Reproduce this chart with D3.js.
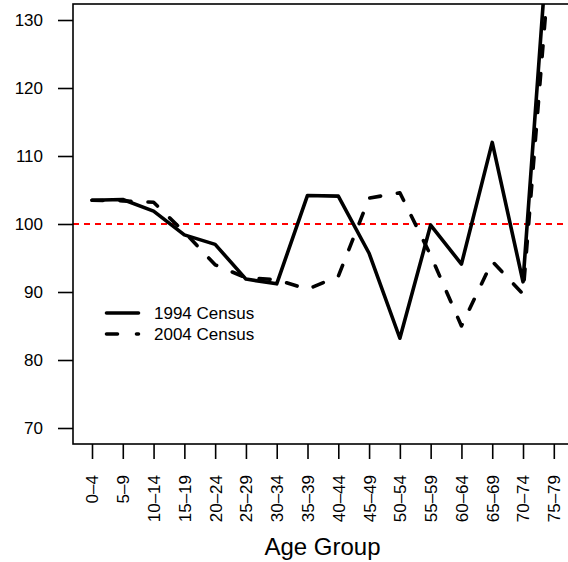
<!DOCTYPE html>
<html>
<head>
<meta charset="utf-8">
<script src="https://cdn.jsdelivr.net/npm/d3@7"></script>
<style>
  html, body { margin: 0; padding: 0; background: #fff; }
  svg { display: block; }
  text { font-family: "Liberation Sans", Arial, Helvetica, sans-serif; fill: #000; }
</style>
</head>
<body>
<div id="chart"></div>
<script>
const ageGroups = ["0–4","5–9","10–14","15–19","20–24","25–29","30–34","35–39","40–44","45–49","50–54","55–59","60–64","65–69","70–74","75–79"];
const census1994 = [103.5,103.6,101.9,98.4,97.0,91.9,91.2,104.2,104.1,95.7,83.2,99.85,94.1,112.0,91.5,154];
const census2004 = [103.5,103.4,103.2,98.8,94.0,92.1,91.8,90.4,92.3,103.8,104.6,95.4,85.0,94.5,89.7,146];
const yTicks = [70,80,90,100,110,120,130];
const referenceLevel = 100;
const seriesNames = ["1994 Census","2004 Census"];

(function () {
const W = 568, H = 562;
const pL = 73, pT = 4, pR = 572, pB = 444;

const svg = d3.select("#chart").append("svg").attr("width", W).attr("height", H);

const x = d3.scalePoint().domain(ageGroups).range([92, 553.8]);
const y = d3.scaleLinear().domain([100 - 220/6.8, 100 + 220/6.8]).range([pB, pT]);

svg.append("defs").append("clipPath").attr("id","plotclip")
  .append("rect").attr("x", pL).attr("y", pT).attr("width", pR-pL).attr("height", pB-pT);

const plot = svg.append("g").attr("clip-path","url(#plotclip)");

// reference line
plot.append("line")
  .attr("x1", pL).attr("x2", pR)
  .attr("y1", y(referenceLevel)).attr("y2", y(referenceLevel))
  .attr("stroke", "#ff0000").attr("stroke-width", 1.8).attr("stroke-dasharray", "6,5");

const line = d3.line().x((d,i) => x(ageGroups[i])).y(d => y(d));

plot.append("path").datum(census2004)
  .attr("d", line).attr("fill","none").attr("stroke","#000")
  .attr("stroke-width", 3.6).attr("stroke-linecap","round").attr("stroke-linejoin","round")
  .attr("stroke-dasharray","11,17");

plot.append("path").datum(census1994)
  .attr("d", line).attr("fill","none").attr("stroke","#000")
  .attr("stroke-width", 3.6).attr("stroke-linecap","round").attr("stroke-linejoin","round");

// frame
svg.append("rect").attr("x", pL).attr("y", pT).attr("width", pR-pL).attr("height", pB-pT)
  .attr("fill","none").attr("stroke","#000").attr("stroke-width", 1.6);

// y axis
const yAxis = d3.axisLeft(y).tickValues(yTicks).tickSize(15).tickPadding(15).tickFormat(d3.format("d"));
const gy = svg.append("g").attr("transform", `translate(${pL},0)`).call(yAxis);
gy.select(".domain").remove();
gy.selectAll(".tick line").attr("stroke","#000").attr("stroke-width",1.6);
gy.selectAll(".tick text").attr("font-size", 17).attr("font-family", '"Liberation Sans", Arial, sans-serif').attr("fill","#000");

// x axis
const xAxis = d3.axisBottom(x).tickSize(15).tickPadding(0);
const gx = svg.append("g").attr("transform", `translate(0,${pB})`).call(xAxis);
gx.select(".domain").remove();
gx.selectAll(".tick line").attr("stroke","#000").attr("stroke-width",1.6);
gx.selectAll(".tick text")
  .attr("font-size", 17).attr("font-family", '"Liberation Sans", Arial, sans-serif').attr("fill","#000")
  .attr("transform", "rotate(-90)")
  .attr("x", -31).attr("y", 0).attr("dy", "0.35em")
  .attr("text-anchor", "end");

// axis title
svg.append("text").attr("x", (pL+pR)/2).attr("y", 555)
  .attr("text-anchor","middle").attr("font-size", 24).text("Age Group");

// legend
const legend = svg.append("g");
const legY = [313, 334];
[0,1].forEach(i => {
  legend.append("line").attr("x1", 106.5).attr("x2", 138.5).attr("y1", legY[i]).attr("y2", legY[i])
    .attr("stroke","#000").attr("stroke-width",3.6).attr("stroke-linecap","round")
    .attr("stroke-dasharray", i === 1 ? "11,19" : null);
  legend.append("text").attr("x", 154).attr("y", legY[i]).attr("dy","0.35em")
    .attr("font-size", 17).text(seriesNames[i]);
});
})();
</script>
</body>
</html>
